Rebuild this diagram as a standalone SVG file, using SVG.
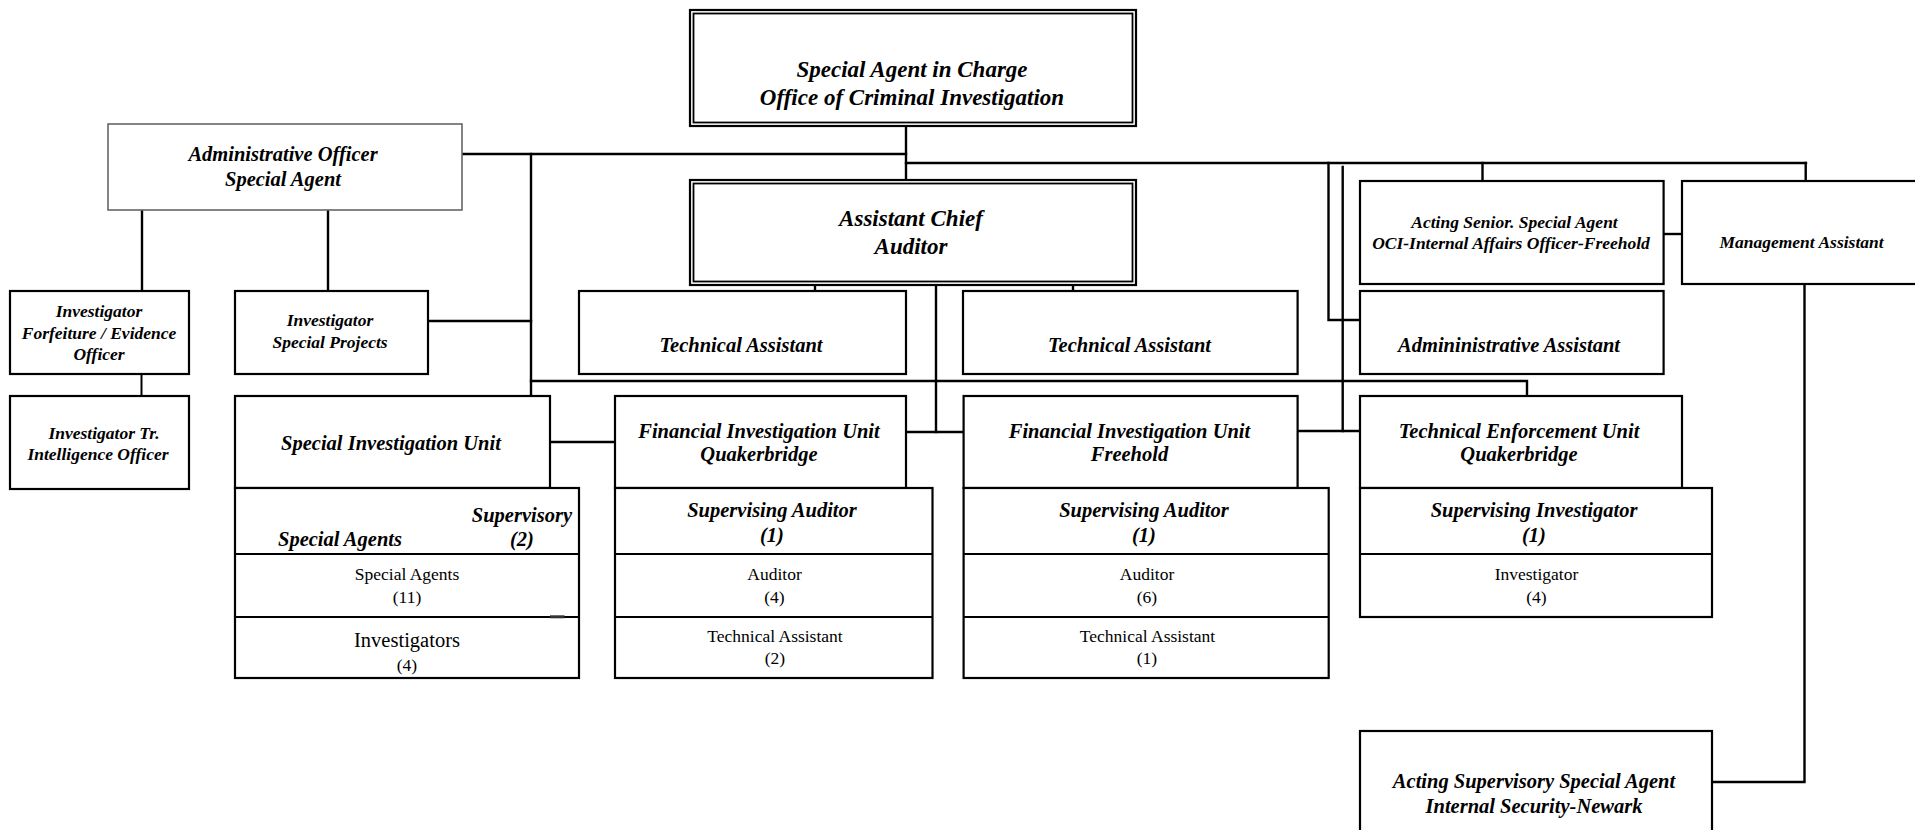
<svg xmlns="http://www.w3.org/2000/svg" width="1915" height="830" viewBox="0 0 1915 830">
<style>
.bx{fill:#fff;stroke:#000;stroke-width:2.2}
.gx{fill:#fff;stroke:#666;stroke-width:1.6}
.dv{stroke:#000;stroke-width:2.2}
.cn{fill:none;stroke:#000;stroke-width:2.4;stroke-linecap:square}
text{font-family:"Liberation Serif","Times New Roman",serif;fill:#000;text-anchor:middle}
.b23{font-size:23px;font-weight:bold;font-style:italic}
.b20{font-size:20.5px;font-weight:bold;font-style:italic}
.b17{font-size:17.5px;font-weight:bold;font-style:italic}
.r17{font-size:17.5px}
.r20{font-size:20.5px}
</style>
<rect width="1915" height="830" fill="#fff"/>
<g id="connectors">
<path class="cn" d="M906,126V180"/>
<path class="cn" d="M462,154H906"/>
<path class="cn" d="M906,163H1806"/>
<path class="cn" d="M531,154V396"/>
<path class="cn" d="M428,321H531"/>
<path class="cn" d="M142,210V291"/>
<path class="cn" d="M328,210V291"/>
<path class="cn" d="M141.5,374V396" style="stroke-width:2"/>
<path class="cn" d="M531,381H1527V396"/>
<path class="cn" d="M815,285V291"/>
<path class="cn" d="M1073,285V291"/>
<path class="cn" d="M936,285V432"/>
<path class="cn" d="M906,432H963"/>
<path class="cn" d="M550,442H615"/>
<path class="cn" d="M1328.5,163V320H1360"/>
<path class="cn" d="M1342.7,167V431"/>
<path class="cn" d="M1297.6,431H1360"/>
<path class="cn" d="M1482.5,163V181"/>
<path class="cn" d="M1805.7,163V181"/>
<path class="cn" d="M1663.6,234H1682"/>
<path class="cn" d="M1804.5,284V782H1712"/>
</g>
<g id="sac">
<rect x="690" y="10" width="446" height="116" fill="#fff" stroke="#000" stroke-width="2.2"/>
<rect x="693.5" y="13.5" width="439" height="109" fill="none" stroke="#000" stroke-width="1.8"/>
<text class="b23" x="912" y="77">Special Agent in Charge</text>
<text class="b23" x="912" y="105">Office of Criminal Investigation</text>
</g>
<g id="asst-chief">
<rect x="690" y="180" width="446" height="105" fill="#fff" stroke="#000" stroke-width="2.2"/>
<rect x="693.5" y="183.5" width="439" height="98" fill="none" stroke="#000" stroke-width="1.8"/>
<text class="b23" x="911" y="226">Assistant Chief</text>
<text class="b23" x="911" y="254">Auditor</text>
</g>
<g id="admin-officer">
<rect class="gx" x="108" y="124" width="354" height="86"/>
<text class="b20" x="283" y="160.5">Administrative Officer</text>
<text class="b20" x="283" y="186">Special Agent</text>
</g>
<g id="forfeiture">
<rect class="bx" x="10" y="291" width="179" height="83"/>
<text class="b17" x="99" y="317">Investigator</text>
<text class="b17" x="99" y="338.5">Forfeiture / Evidence</text>
<text class="b17" x="99" y="360">Officer</text>
</g>
<g id="intelligence">
<rect class="bx" x="10" y="396" width="179" height="93"/>
<text class="b17" x="104" y="438.5">Investigator Tr.</text>
<text class="b17" x="98" y="460">Intelligence Officer</text>
</g>
<g id="special-projects">
<rect class="bx" x="235" y="291" width="193" height="83"/>
<text class="b17" x="330" y="326">Investigator</text>
<text class="b17" x="330" y="347.5">Special Projects</text>
</g>
<g id="tech-asst-1">
<rect class="bx" x="579" y="291" width="327" height="83"/>
<text class="b20" x="741" y="352">Technical Assistant</text>
</g>
<g id="tech-asst-2">
<rect class="bx" x="963" y="291" width="334.6" height="83"/>
<text class="b20" x="1129.5" y="352">Technical Assistant</text>
</g>
<g id="acting-senior">
<rect class="bx" x="1360" y="181" width="303.6" height="103"/>
<text class="b17" x="1514.5" y="228">Acting Senior. Special Agent</text>
<text class="b17" x="1511" y="249">OCI-Internal Affairs Officer-Freehold</text>
</g>
<g id="management-assistant">
<rect class="bx" x="1682" y="181" width="245" height="103"/>
<text class="b17" x="1801.5" y="248">Management Assistant</text>
</g>
<g id="admin-assistant">
<rect class="bx" x="1360" y="291" width="303.6" height="83"/>
<text class="b20" x="1509" y="352">Admininistrative Assistant</text>
</g>
<g id="siu">
<rect class="bx" x="235" y="396" width="315" height="92"/>
<text class="b20" x="391" y="449.5">Special Investigation Unit</text>
<rect class="bx" x="235" y="488" width="344" height="190"/>
<line class="dv" x1="235" y1="554" x2="579" y2="554"/>
<line class="dv" x1="235" y1="617" x2="579" y2="617"/>
<rect x="550" y="615.3" width="14.5" height="3" fill="#333"/>
<text class="b20" x="572" y="522" style="text-anchor:end">Supervisory</text>
<text class="b20" x="522" y="546">(2)</text>
<text class="b20" x="278" y="546" style="text-anchor:start">Special Agents</text>
<text class="r17" x="407" y="580">Special Agents</text>
<text class="r17" x="407" y="603">(11)</text>
<text class="r20" x="407" y="647">Investigators</text>
<text class="r17" x="407" y="671">(4)</text>
</g>
<g id="fiu-quakerbridge">
<rect class="bx" x="615" y="396" width="291" height="92"/>
<text class="b20" x="759" y="438">Financial Investigation Unit</text>
<text class="b20" x="759" y="461">Quakerbridge</text>
<rect class="bx" x="615" y="488" width="317.5" height="190"/>
<line class="dv" x1="615" y1="554" x2="932.5" y2="554"/>
<line class="dv" x1="615" y1="617" x2="932.5" y2="617"/>
<text class="b20" x="772" y="516.5">Supervising Auditor</text>
<text class="b20" x="772" y="542">(1)</text>
<text class="r17" x="774.5" y="580">Auditor</text>
<text class="r17" x="774.5" y="603">(4)</text>
<text class="r17" x="775" y="642">Technical Assistant</text>
<text class="r17" x="775" y="664">(2)</text>
</g>
<g id="fiu-freehold">
<rect class="bx" x="963.6" y="396" width="334" height="92"/>
<text class="b20" x="1129.5" y="438">Financial Investigation Unit</text>
<text class="b20" x="1129.5" y="461">Freehold</text>
<rect class="bx" x="963.6" y="488" width="365.1" height="190"/>
<line class="dv" x1="963.6" y1="554" x2="1328.7" y2="554"/>
<line class="dv" x1="963.6" y1="617" x2="1328.7" y2="617"/>
<text class="b20" x="1144" y="516.5">Supervising Auditor</text>
<text class="b20" x="1144" y="542">(1)</text>
<text class="r17" x="1147" y="580">Auditor</text>
<text class="r17" x="1147" y="603">(6)</text>
<text class="r17" x="1147.5" y="642">Technical Assistant</text>
<text class="r17" x="1147" y="664">(1)</text>
</g>
<g id="teu-quakerbridge">
<rect class="bx" x="1360" y="396" width="322" height="92"/>
<text class="b20" x="1519" y="438">Technical Enforcement Unit</text>
<text class="b20" x="1519" y="461">Quakerbridge</text>
<rect class="bx" x="1360" y="488" width="352" height="129"/>
<line class="dv" x1="1360" y1="554" x2="1712" y2="554"/>
<text class="b20" x="1534" y="516.5">Supervising Investigator</text>
<text class="b20" x="1534" y="542">(1)</text>
<text class="r17" x="1536.5" y="580">Investigator</text>
<text class="r17" x="1536.5" y="603">(4)</text>
</g>
<g id="acting-supervisory">
<rect class="bx" x="1360" y="731" width="352" height="120"/>
<text class="b20" x="1534" y="788">Acting Supervisory Special Agent</text>
<text class="b20" x="1534" y="812.5">Internal Security-Newark</text>
</g>
</svg>
